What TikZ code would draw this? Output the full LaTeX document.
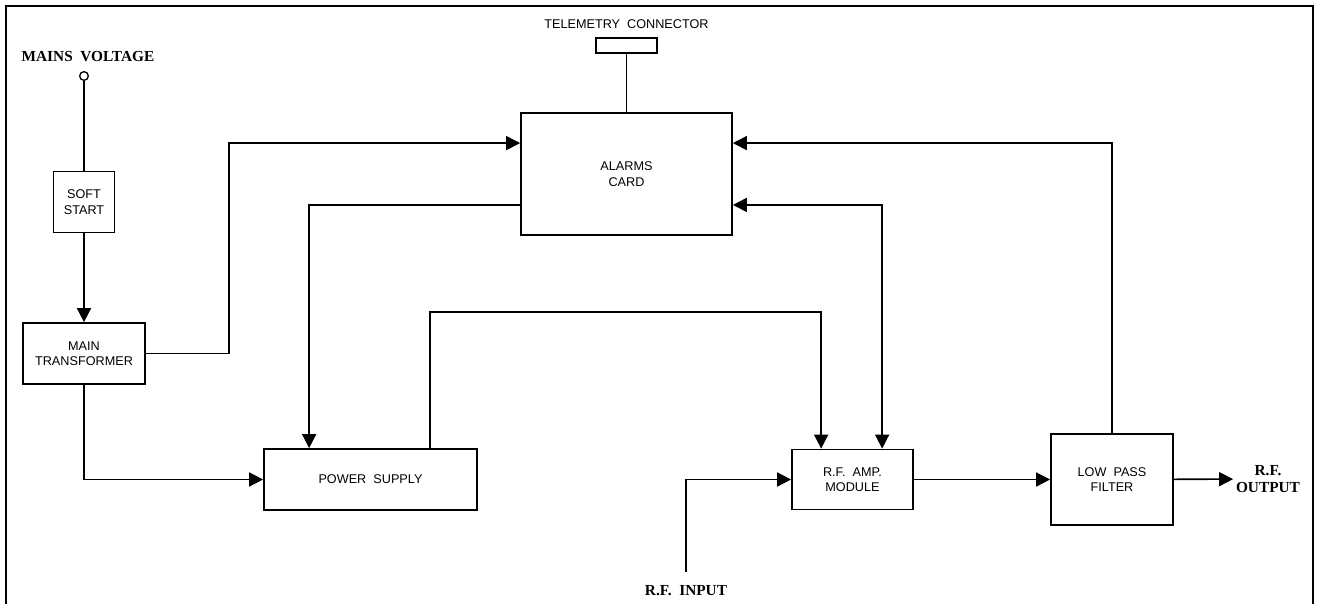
\documentclass[tikz,border=0pt]{standalone}
\usepackage{fontspec}
\newfontfamily\cadfont{Liberation Sans}
\newfontfamily\tagfont{Liberation Serif}
\usetikzlibrary{positioning,calc,arrows.meta}

\begin{document}
\begin{tikzpicture}[x=0.75pt,y=-0.75pt,
  block/.style={draw, line width=1.3pt, align=center, inner sep=0pt,
    font=\cadfont\fontsize{9.5}{11.5}\selectfont},
  tag/.style={align=center, inner sep=3pt,
    font=\tagfont\bfseries\fontsize{11.5}{12.5}\selectfont},
  wire/.style={line width=1.2pt},
  arr/.style={wire, -{Triangle[length=10.5pt,width=10.5pt]}},
  arrboth/.style={wire, {Triangle[length=10.5pt,width=10.5pt]}-{Triangle[length=10.5pt,width=10.5pt]}}]
  \useasboundingbox (0,0) rectangle (1318,604);
  % frame
  \draw[line width=1.9pt] (6,604) -- (6,6) -- (1313,6) -- (1313,604);

  % blocks
  \node[block, minimum width=45.75pt, minimum height=45.75pt] (soft) at (84,202) {SOFT\\START};
  \node[block, minimum width=91.5pt, minimum height=45.75pt] (trafo) at (84,353.5) {MAIN\\TRANSFORMER};
  \node[block, minimum width=158.25pt, minimum height=91.5pt] (alarms) at (626.5,174) {ALARMS\\CARD};
  \node[block, minimum width=45.75pt, minimum height=11.25pt] (tele) at (626.5,45.5) {};
  \node[block, draw=none] (telelbl) at (626.5,24) {TELEMETRY~~CONNECTOR};
  \node[block, minimum width=159.75pt, minimum height=45.75pt] (psu) at (370.5,479.5) {POWER~~SUPPLY};
  \node[block, minimum width=90.75pt, minimum height=45pt] (rfamp) at (852.5,479.5) {R.F.~~AMP.\\MODULE};
  \node[block, minimum width=91.5pt, minimum height=68.25pt] (lpf) at (1112,479.5) {LOW~~PASS\\FILTER};

  % terminals and labels
  \node[tag] (mainslbl) at (88,57) {MAINS~~VOLTAGE};
  \node[draw, circle, fill=white, line width=1pt, minimum size=6.5pt, inner sep=0pt] (mains) at (84,76) {};
  \node[tag] (rfinlbl) at (686,591) {R.F.~~INPUT};
  \coordinate (rfin) at (686,572);
  \node[tag, inner sep=2pt] (rfout) at (1268,479) {R.F.\\OUTPUT};

  % ports on the blocks
  \coordinate (almL1) at ($(alarms.north west)!.25!(alarms.south west)$);
  \coordinate (almL2) at ($(alarms.north west)!.75!(alarms.south west)$);
  \coordinate (almR1) at ($(alarms.north east)!.25!(alarms.south east)$);
  \coordinate (almR2) at ($(alarms.north east)!.75!(alarms.south east)$);
  \coordinate (psuIn) at ($(psu.north west)+(46,0)$);
  \coordinate (psuOut) at ($(psu.north west)+(167,0)$);
  \coordinate (ampIn1) at ($(rfamp.north west)+(30,0)$);
  \coordinate (ampIn2) at ($(rfamp.north west)+(91,0)$);

  % connections
  \draw[wire] (mains) -- (soft);
  \draw[arr] (soft) -- (trafo);
  \draw[wire] (tele) -- (alarms);
  \draw[arr] (trafo.east) -- ++(83,0) |- (almL1);
  \draw[arr] (almL2) -| (psuIn);
  \draw[arr] (trafo.south) |- (psu.west);
  \draw[arr] (psuOut) -- ++(0,-136) -| (ampIn1);
  \draw[arrboth] (almR2) -| (ampIn2);
  \draw[arr] (lpf.north) |- (almR1);
  \draw[arr] (rfin) |- (rfamp.west);
  \draw[arr] (rfamp) -- (lpf);
  \draw[arr] (lpf) -- (rfout);
\end{tikzpicture}
\end{document}
